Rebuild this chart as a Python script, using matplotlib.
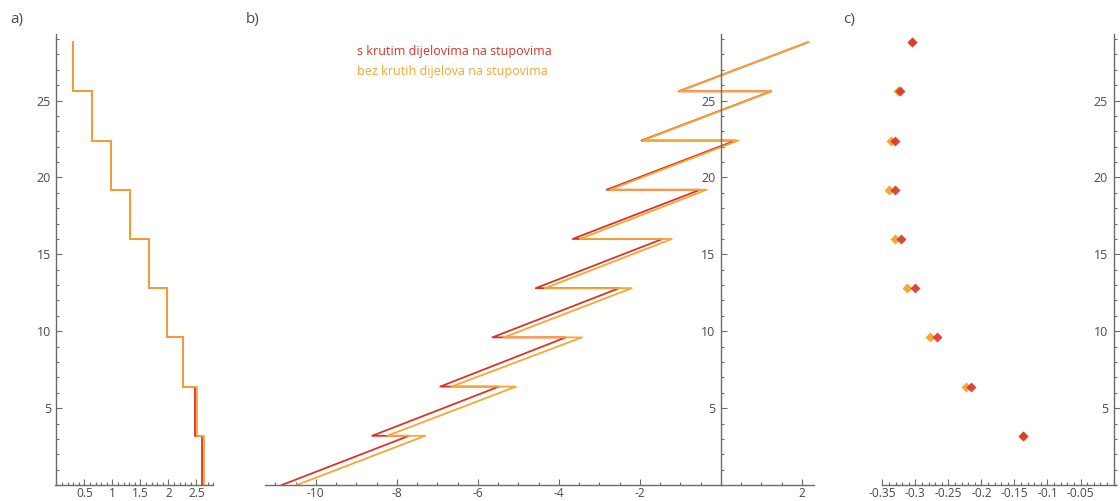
import numpy as np
import matplotlib.pyplot as plt
from matplotlib.ticker import MultipleLocator

plt.rcParams['font.family'] = ['Open Sans', 'DejaVu Sans']
plt.rcParams['axes.unicode_minus'] = False

# storey levels (m)
levels = [0, 3.2, 6.4, 9.6, 12.8, 16.0, 19.2, 22.4, 25.6, 28.8]

# a) step diagram, value per storey from bottom to top
a_red = [2.60, 2.48, 2.26, 1.98, 1.66, 1.32, 0.97, 0.64, 0.30]
a_orange = [2.64, 2.51, 2.26, 1.98, 1.66, 1.32, 0.97, 0.64, 0.30]

# b) zigzag: bottom value, right/left ends at each floor, top value
b_red_bottom = -10.84
b_red_right = [-7.70, -5.48, -3.83, -2.51, -1.44, -0.51, 0.36, 1.24]
b_red_left = [-8.61, -6.93, -5.64, -4.57, -3.66, -2.82, -1.96, -1.04]
b_red_top = 2.16
b_orange_bottom = -10.47
b_orange_right = [-7.30, -5.06, -3.43, -2.20, -1.21, -0.35, 0.43, 1.25]
b_orange_left = [-8.24, -6.65, -5.36, -4.34, -3.48, -2.74, -1.93, -1.03]
b_orange_top = 2.16

# c) points at floor levels 3.2 .. 28.8
c_red = [-0.1366, -0.2157, -0.268, -0.301, -0.321, -0.3306, -0.331, -0.3236, -0.305]
c_orange = [-0.1366, -0.223, -0.278, -0.312, -0.3306, -0.3395, -0.337, -0.327, -0.305]

a_xticks = [0.5, 1, 1.5, 2, 2.5]
b_xticks = [-10, -8, -6, -4, -2, 2]
c_xticks = [-0.35, -0.3, -0.25, -0.2, -0.15, -0.1, -0.05]
yticks = [5, 10, 15, 20, 25]

label_red = 's krutim dijelovima na stupovima'
label_orange = 'bez krutih dijelova na stupovima'

RED = '#da3329'
ORANGE = '#f7a633'
AXC = '#6b6b6b'
TXC = '#4a4a4a'


def steps(vals):
    xs, ys = [], []
    for i, v in enumerate(vals):
        xs += [v, v]
        ys += [levels[i], levels[i + 1]]
    return xs, ys


def zigzag(bottom, right, left, top):
    xs, ys = [bottom], [0]
    for i in range(len(right)):
        xs += [right[i], left[i]]
        ys += [levels[i + 1], levels[i + 1]]
    xs.append(top)
    ys.append(levels[-1])
    return xs, ys


def style(ax, xticks, xminor):
    for s in ['top', 'right']:
        ax.spines[s].set_visible(False)
    ax.spines['left'].set_position(('data', 0))
    ax.spines['bottom'].set_position(('data', 0))
    for s in ['left', 'bottom']:
        ax.spines[s].set_color(AXC)
        ax.spines[s].set_linewidth(1.0)
    ax.set_ylim(0, 29.3)
    ax.set_yticks(yticks)
    ax.yaxis.set_minor_locator(MultipleLocator(1))
    ax.set_xticks(xticks)
    ax.set_xticklabels(['%g' % t for t in xticks])
    ax.xaxis.set_minor_locator(MultipleLocator(xminor))
    ax.tick_params(which='both', direction='in', colors=AXC, labelcolor=TXC, width=0.8)
    ax.tick_params(which='major', length=4)
    ax.tick_params(axis='y', which='major', pad=4, labelsize=9)
    ax.tick_params(axis='x', which='major', pad=1.5, labelsize=8.6)
    ax.tick_params(which='minor', length=2.2)
    ax.patch.set_visible(False)


fig = plt.figure(figsize=(11.2, 5.01), dpi=100)

ax1 = fig.add_axes([0.0489, 0.0319, 0.1415, 0.8994])
ax2 = fig.add_axes([0.2368, 0.0319, 0.4900, 0.8994])
ax3 = fig.add_axes([0.7878, 0.0319, 0.2088, 0.8994])

x, y = steps(a_red)
ax1.plot(x, y, color=RED, lw=1.3)
x, y = steps(a_orange)
ax1.plot(x, y, color=ORANGE, lw=1.3)
ax1.set_xlim(-0.03, 2.8)
style(ax1, a_xticks, 0.1)

x, y = zigzag(b_red_bottom, b_red_right, b_red_left, b_red_top)
ax2.plot(x, y, color=RED, lw=1.3)
x, y = zigzag(b_orange_bottom, b_orange_right, b_orange_left, b_orange_top)
ax2.plot(x, y, color=ORANGE, lw=1.3)
ax2.set_xlim(-11.25, 2.3)
style(ax2, b_xticks, 0.5)

ax3.plot(c_orange, levels[1:], 'D', color=ORANGE, ms=5, mec='none')
ax3.plot(c_red, levels[1:], 'D', color=RED, ms=5, mec='none', alpha=0.9)
ax3.set_xlim(-0.345, 0.004)
style(ax3, c_xticks, 0.01)

fig.text(357 / 1120, 1 - 52 / 501, label_red, color=RED, fontsize=9, va='center')
fig.text(357 / 1120, 1 - 71 / 501, label_orange, color=ORANGE, fontsize=9, va='center')

fig.text(10 / 1120, 1 - 20 / 501, 'a)', color=TXC, fontsize=11, va='center')
fig.text(246 / 1120, 1 - 20 / 501, 'b)', color=TXC, fontsize=11, va='center')
fig.text(843 / 1120, 1 - 20 / 501, 'c)', color=TXC, fontsize=11, va='center')

fig.savefig('out.png', dpi=100)
